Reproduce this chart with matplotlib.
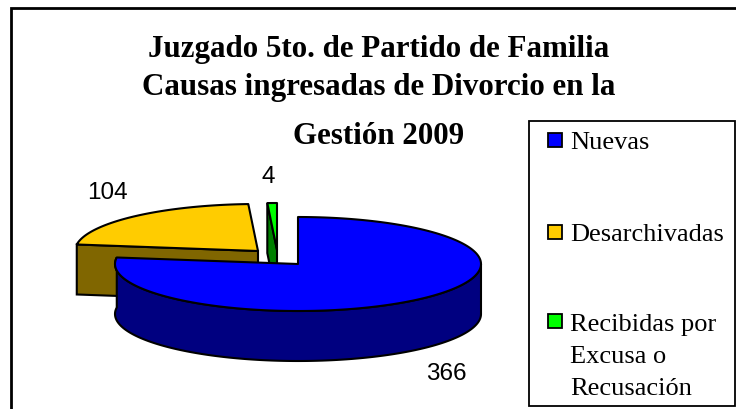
import numpy as np
import matplotlib
matplotlib.use("Agg")
import matplotlib.pyplot as plt
from matplotlib.patches import Polygon, Rectangle

categories = ["Nuevas", "Desarchivadas", "Recibidas por\nExcusa o\nRecusación"]
values = [366, 104, 4]
top_colors = ["#0000FF", "#FFCC00", "#00FF00"]
wall_colors = ["#000080", "#806600", "#008000"]
# exploded pie centres, in pixels
centers = [(298, 264), (258, 251), (277, 250)]
label_pos = [(446, 374), (107, 193), (268, 177)]
# text baselines and swatch centres of the legend
legend_base = [149, 241, 331]
legend_box = [140, 232, 321]
title_lines = ["Juzgado 5to. de Partido de Familia",
               "Causas ingresadas de Divorcio en la",
               "Gestión 2009"]
title_y = [49, 88, 136]

RX = 183
RY = 47
DEPTH = 50
EDGE = 1.5
LINE_GAP = 32

fig = plt.figure(figsize=(7.36, 4.09), dpi=100)
ax = fig.add_axes([0, 0, 1, 1])
ax.set_xlim(0, 736)
ax.set_ylim(409, 0)
ax.axis("off")


def arc(cx, cy, a0, a1, dy=0):
    # angles run clockwise from 12 o'clock
    t = np.radians(np.linspace(a0, a1, 200))
    return np.column_stack([cx + RX * np.sin(t), cy - RY * np.cos(t) + dy])


ax.add_patch(Rectangle((11, 8), 760, 420, fc="white", ec="black", lw=2, zorder=0))

# work out each slice's angles from the values
total = sum(values)
angles = np.cumsum([0] + values) / total * 360

# drawn back to front
for i in [1, 2, 0]:
    cx, cy = centers[i]
    a0, a1 = angles[i], angles[i + 1]
    z = 2 + i * -0.1 + (2 if i == 0 else 0)
    outer = arc(cx, cy, a0, a1)

    if i == 0:
        # only the outer rim of the big slice shows
        start = max(a0, 90)
        rim = arc(cx, cy, start, a1)
        rim_low = arc(cx, cy, start, a1, DEPTH)
        ax.add_patch(Polygon(np.vstack([rim, rim_low[::-1]]), fc=wall_colors[i],
                             ec="black", lw=EDGE, zorder=z))
    else:
        # cut face on the side turned to the viewer
        p = outer[0]
        low = [(p[0], p[1] + DEPTH), (cx, cy + DEPTH)]
        ax.add_patch(Polygon([tuple(p), (cx, cy)] + low[::-1], fc=wall_colors[i],
                             ec="black", lw=EDGE, zorder=z))

    ax.add_patch(Polygon(np.vstack([outer, [(cx, cy)]]), fc=top_colors[i],
                         ec="black", lw=EDGE, joinstyle="round", zorder=z + 0.01))
    ax.text(label_pos[i][0], label_pos[i][1], str(values[i]), family="Liberation Sans",
            fontsize=17.5, ha="center", va="center", zorder=6)

for i, line in enumerate(title_lines):
    ax.text(379, title_y[i], line, family="Liberation Serif",
            fontweight="bold", fontsize=22.3, ha="center", va="center", zorder=6)

# legend box
ax.add_patch(Rectangle((529, 121), 206, 285, fc="white", ec="black", lw=1.3, zorder=7))
for i, name in enumerate(categories):
    ax.add_patch(Rectangle((548, legend_box[i] - 7), 14, 14, fc=top_colors[i],
                           ec="black", lw=1.3, zorder=8))
    for j, part in enumerate(name.split("\n")):
        ax.text(570, legend_base[i] + j * LINE_GAP, part, family="Liberation Serif",
                fontsize=19, ha="left", va="baseline", zorder=8)

fig.savefig("out.png", dpi=100)
